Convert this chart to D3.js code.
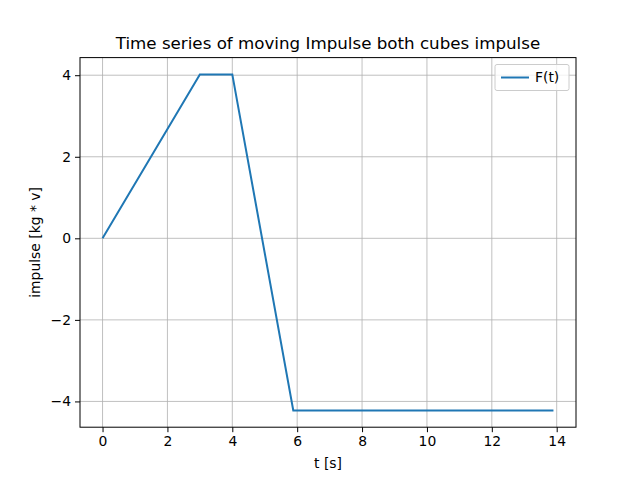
<!DOCTYPE html>
<html><head><meta charset="utf-8">
<script src="https://cdn.jsdelivr.net/npm/d3@7"></script>
<style>body{margin:0;background:#fff}text{font-family:"DejaVu Sans",sans-serif}</style>
</head><body>
<script>
// data
const tValues = [0, 3.0, 4.0, 5.88, 13.9];
const impulse = [0, 4.02, 4.02, -4.22, -4.22];
const xTicks = [0, 2, 4, 6, 8, 10, 12, 14];
const yTicks = [-4, -2, 0, 2, 4];

const W = 640, H = 480;
const m = {left: 80, right: 576, top: 57.6, bottom: 427.2};

const svg = d3.select('body').append('svg').attr('width', W).attr('height', H);

const xr = d3.extent(tValues), xm = (xr[1] - xr[0]) * 0.05;
const yr = d3.extent(impulse), ym = (yr[1] - yr[0]) * 0.05;
const x = d3.scaleLinear().domain([xr[0] - xm, xr[1] + xm]).range([m.left, m.right]);
const y = d3.scaleLinear().domain([yr[0] - ym, yr[1] + ym]).range([m.bottom, m.top]);

// grid
svg.append('g').selectAll('line').data(xTicks).join('line')
  .attr('x1', d => x(d)).attr('x2', d => x(d)).attr('y1', m.top).attr('y2', m.bottom)
  .attr('stroke', '#b0b0b0').attr('stroke-width', 0.8);
svg.append('g').selectAll('line').data(yTicks).join('line')
  .attr('y1', d => y(d)).attr('y2', d => y(d)).attr('x1', m.left).attr('x2', m.right)
  .attr('stroke', '#b0b0b0').attr('stroke-width', 0.8);

// line
svg.append('path')
  .attr('d', d3.line().x((d, i) => x(tValues[i])).y(d => y(d))(impulse))
  .attr('fill', 'none').attr('stroke', '#1f77b4').attr('stroke-width', 2);

// axes
const fmt = d => d < 0 ? '\u2212' + Math.abs(d) : String(d);
const gx = svg.append('g').attr('transform', `translate(0,${m.bottom})`)
  .call(d3.axisBottom(x).tickValues(xTicks).tickFormat(fmt).tickSize(5).tickPadding(4));
const gy = svg.append('g').attr('transform', `translate(${m.left},0)`)
  .call(d3.axisLeft(y).tickValues(yTicks).tickFormat(fmt).tickSize(5).tickPadding(4));
[gx, gy].forEach(g => {
  g.select('.domain').remove();
  g.selectAll('text').attr('font-size', 13.9).attr('fill', '#000').attr('font-family', 'DejaVu Sans');
  g.selectAll('line').attr('stroke', '#000').attr('stroke-width', 1);
});

svg.append('rect').attr('x', m.left).attr('y', m.top)
  .attr('width', m.right - m.left).attr('height', m.bottom - m.top)
  .attr('fill', 'none').attr('stroke', '#000').attr('stroke-width', 1);

// labels
svg.append('text').attr('x', (m.left + m.right) / 2).attr('y', 49).attr('text-anchor', 'middle')
  .attr('font-size', 16.7).text('Time series of moving Impulse both cubes impulse');
svg.append('text').attr('x', (m.left + m.right) / 2).attr('y', 468).attr('text-anchor', 'middle')
  .attr('font-size', 13.9).text('t [s]');
svg.append('text').attr('transform', `translate(40,${(m.top + m.bottom) / 2}) rotate(-90)`)
  .attr('text-anchor', 'middle').attr('font-size', 13.9).text('impulse [kg * v]');

// legend
const lg = svg.append('g');
lg.append('rect').attr('x', 495).attr('y', 64.5).attr('width', 74).attr('height', 26).attr('rx', 2)
  .attr('fill', '#fff').attr('fill-opacity', 0.8).attr('stroke', '#ccc');
lg.append('line').attr('x1', 501).attr('x2', 529).attr('y1', 77.5).attr('y2', 77.5)
  .attr('stroke', '#1f77b4').attr('stroke-width', 2);
lg.append('text').attr('x', 535).attr('y', 82).attr('font-size', 13.9).text('F(t)');
</script>
</body></html>
